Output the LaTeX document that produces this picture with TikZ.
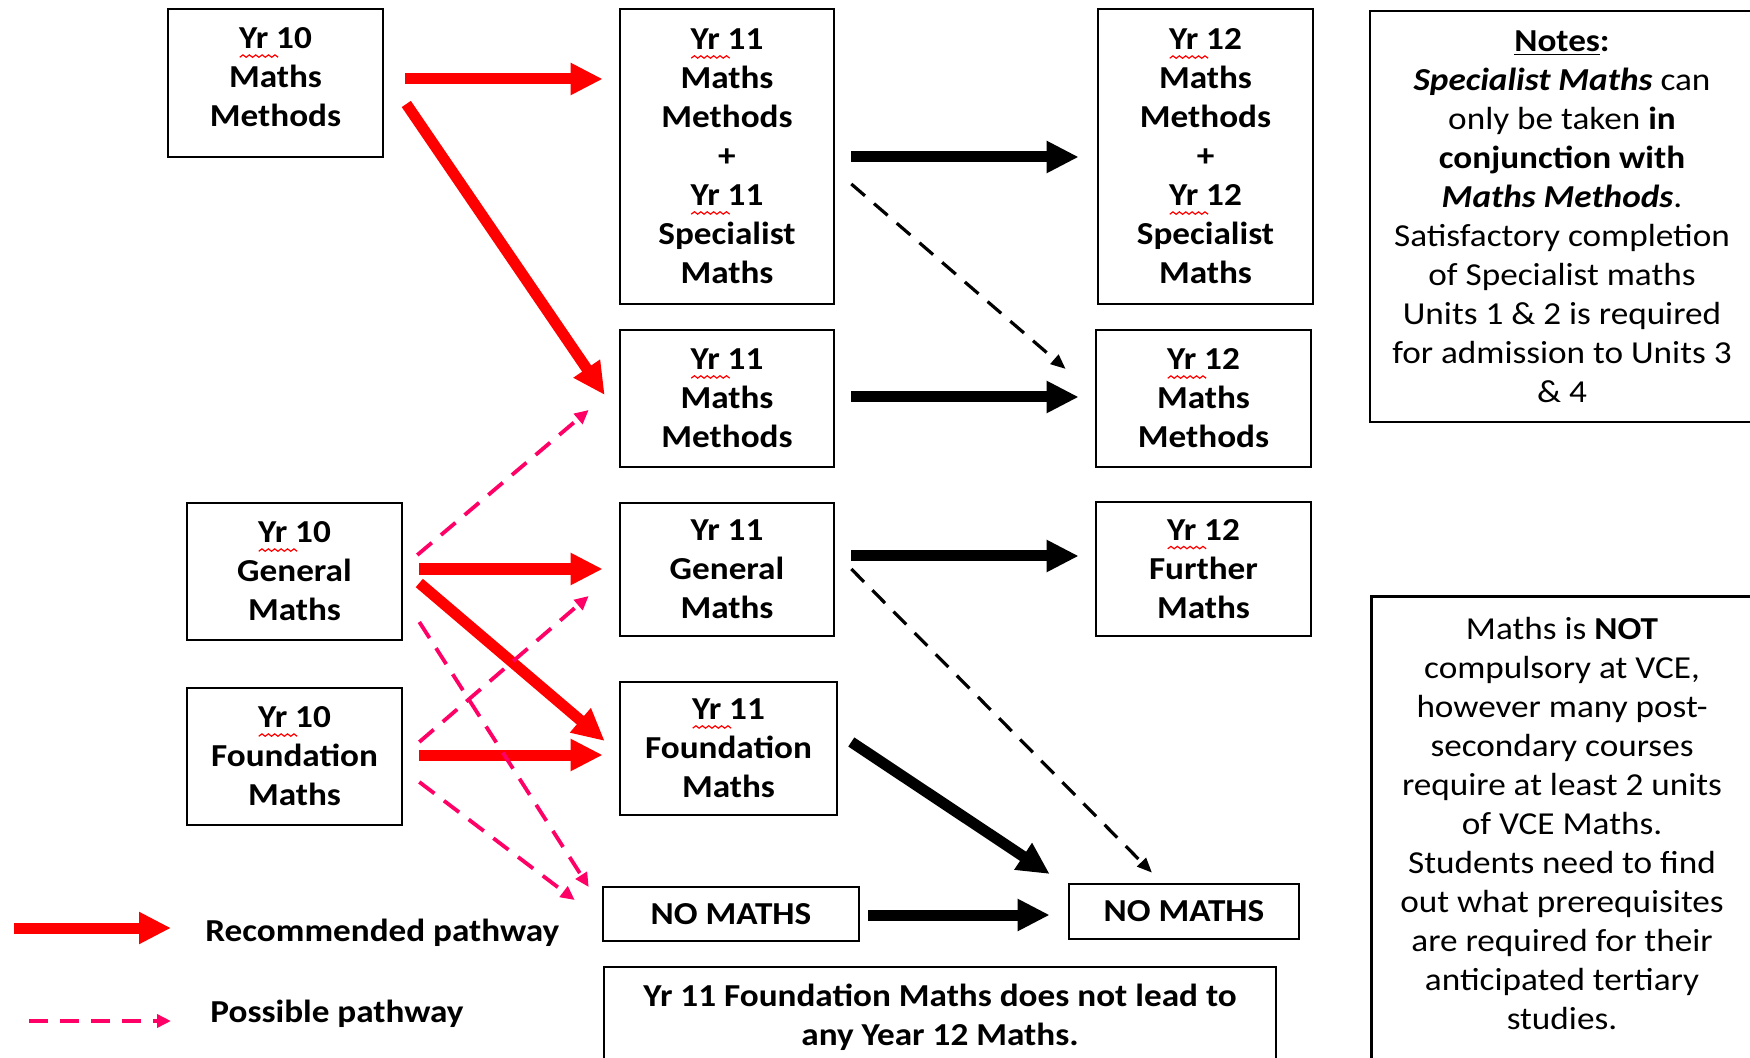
\documentclass[tikz,border=0pt]{standalone}
\usepackage{fontspec}
\setmainfont{Carlito}[FakeStretch=1.1]
\usetikzlibrary{arrows.meta,calc}
\definecolor{pathred}{RGB}{255,0,0}
\definecolor{pathpink}{RGB}{255,0,102}
\newsavebox\wavebox
\newcommand\spell[1]{\leavevmode\rlap{\raisebox{-4.5pt}[0pt][0pt]{\usebox\wavebox}}#1}
\begin{document}
\sbox\wavebox{\begin{pgfpicture}%
\pgfsetlinewidth{0.6pt}\pgfsetcolor{red}%
\pgfpathmoveto{\pgfpoint{0pt}{0pt}}%
\pgfpathlineto{\pgfpoint{1.6pt}{1.2pt}}\pgfpathlineto{\pgfpoint{3.2pt}{0pt}}%
\pgfpathlineto{\pgfpoint{4.8pt}{1.2pt}}\pgfpathlineto{\pgfpoint{6.4pt}{0pt}}%
\pgfpathlineto{\pgfpoint{8pt}{1.2pt}}\pgfpathlineto{\pgfpoint{9.6pt}{0pt}}%
\pgfpathlineto{\pgfpoint{11.2pt}{1.2pt}}\pgfpathlineto{\pgfpoint{12.8pt}{0pt}}%
\pgfpathlineto{\pgfpoint{14.4pt}{1.2pt}}\pgfpathlineto{\pgfpoint{16pt}{0pt}}%
\pgfpathlineto{\pgfpoint{17.6pt}{1.2pt}}\pgfpathlineto{\pgfpoint{19.2pt}{0pt}}%
\pgfusepath{stroke}%
\end{pgfpicture}}%
\begin{tikzpicture}[x=0.5pt,y=-0.5pt,
  box/.style={draw, line width=1.3pt, align=center, inner sep=0pt,
    font=\bfseries\fontsize{16}{19.5}\selectfont},
  notebox/.style={draw, line width=1.3pt, align=center, inner sep=0pt,
    font=\fontsize{16}{19.5}\selectfont},
  plaintext/.style={align=center, inner sep=0pt, font=\fontsize{16}{19.5}\selectfont},
  legendtext/.style={anchor=west, inner sep=0pt, font=\bfseries\fontsize{16}{19.5}\selectfont},
  rec/.style={pathred, line width=5.5pt, -{Triangle[length=16pt,width=15pt]}},
  main/.style={black, line width=5.5pt, -{Triangle[length=16pt,width=15pt]}},
  poss/.style={pathpink, line width=1.9pt, dash pattern=on 9.5pt off 6pt, -{Triangle[length=7pt,width=6.5pt]}},
  maybe/.style={black, line width=1.6pt, dash pattern=on 9pt off 6pt, -{Triangle[length=7.5pt,width=6pt]}}]
\useasboundingbox (0,0) rectangle (1750,1058);
\fill[white] (0,0) rectangle (1750,1058);
\clip (0,0) rectangle (1750,1058);

% Year 10
\node[box, minimum width=107.5pt, minimum height=74pt] (y10mm) at (275.5,83) {\spell{Yr} 10\\Maths\\Methods\rule[-5.6pt]{0pt}{5.6pt}};
\node[box, minimum width=107.5pt, minimum height=68.5pt] (y10gm) at (294.5,571.5) {\spell{Yr} 10\\General\\Maths};
\node[box, minimum width=107.5pt, minimum height=68.5pt] (y10fm) at (294.5,756.5) {\spell{Yr} 10\\Foundation\\Maths};

% Year 11
\node[box, minimum width=107pt, minimum height=147.5pt] (y11ms) at (727,156.5) {\spell{Yr} 11\\Maths\\Methods\\+\\\spell{Yr} 11\\Specialist\\Maths};
\node[box, minimum width=107pt, minimum height=68.5pt] (y11mm) at (727,398.5) {\spell{Yr} 11\\Maths\\Methods};
\node[box, minimum width=107pt, minimum height=66.5pt] (y11gm) at (727,569.5) {Yr 11\\General\\Maths};
\node[box, minimum width=108.5pt, minimum height=66.5pt] (y11fm) at (728.5,748.5) {\spell{Yr} 11\\Foundation\\Maths};
\node[box, minimum width=128pt, minimum height=27pt] (nm1) at (731,914) {NO MATHS};

% Year 12
\node[box, minimum width=107.5pt, minimum height=147.5pt] (y12ms) at (1205.5,156.5) {\spell{Yr} 12\\Maths\\Methods\\+\\\spell{Yr} 12\\Specialist\\Maths};
\node[box, minimum width=107.5pt, minimum height=68.5pt] (y12mm) at (1203.5,398.5) {\spell{Yr} 12\\Maths\\Methods};
\node[box, minimum width=107.5pt, minimum height=67pt] (y12fm) at (1203.5,569) {\spell{Yr} 12\\Further\\Maths};
\node[box, minimum width=115pt, minimum height=27.5pt] (nm2) at (1184,911.5) {NO MATHS};

% Notes
\node[notebox, minimum width=192pt, minimum height=205.5pt] (notes) at (1562,216.5) {%
\textbf{\underline{Notes}:}\\
\textbf{\textit{Specialist Maths}} can\\
only be taken \textbf{in}\\
\textbf{conjunction with}\\
\textbf{\textit{Maths Methods}}.\\
Satisfactory completion\\
of Specialist maths\\
Units 1 \& 2 is required\\
for admission to Units 3\\
\& 4};

\node[draw, line width=1.3pt, anchor=north west, inner sep=0pt, minimum width=200pt, minimum height=250pt] (vcebox) at (1370,595) {};
\node[plaintext] (vce) at (1562,823.5) {%
Maths is \textbf{NOT}\\
compulsory at VCE,\\
however many post-\\
secondary courses\\
require at least 2 units\\
of VCE Maths.\\
Students need to find\\
out what prerequisites\\
are required for their\\
anticipated tertiary\\
studies.};

\node[box, minimum width=336pt, minimum height=50pt] (foot) at (940,1017) {Yr 11 Foundation Maths does not lead to\\any Year 12 Maths.};

% Legend
\coordinate (lr1) at (14,928);
\coordinate (lr2) at (171,928);
\coordinate (lp1) at (29,1021);
\coordinate (lp2) at (171,1021);
\draw[rec] (lr1) -- (lr2);
\draw[poss] (lp1) -- (lp2);
\node[legendtext] (lrt) at (205,933) {Recommended pathway};
\node[legendtext] (lpt) at (210,1014) {Possible pathway};

% Recommended pathways
\draw[rec] ($(y10mm.east)+(21,-4)$) -- ($(y11ms.west)+(-16,-77.5)$);
\draw[rec] ($(y10mm.east)+(22,21)$) -- ($(y11mm.west)+(-14,-3.5)$);
\draw[rec] ($(y10gm.east)+(16,-2.5)$) -- ($(y11gm.west)+(-16,-0.5)$);
\draw[rec] ($(y10gm.east)+(16,11.5)$) -- ($(y11fm.west)+(-14,-7.5)$);
\draw[rec] ($(y10fm.east)+(16,-1.5)$) -- ($(y11fm.west)+(-16,6.5)$);

% Possible pathways
\draw[poss] ($(y10gm.east)+(14,-16.5)$) -- ($(y11mm.west)+(-30,11.5)$);
\draw[poss] ($(y10fm.east)+(16,-14.5)$) -- ($(y11gm.west)+(-30,26.5)$);
\draw[poss] ($(y10gm.east)+(16,50.5)$) -- ($(nm1.west)+(-13,-27)$);
\draw[poss] ($(y10fm.east)+(16,25.5)$) -- ($(nm1.west)+(-27,-14)$);

% Year 11 to Year 12
\draw[main] ($(y11ms.east)+(16,0.5)$) -- ($(y12ms.west)+(-18,0.5)$);
\draw[main] ($(y11mm.east)+(16,-1.5)$) -- ($(y12mm.west)+(-16,-1.5)$);
\draw[main] ($(y11gm.east)+(16,-13.5)$) -- ($(y12fm.west)+(-16,-13)$);
\draw[main] ($(y11fm.east)+(13,-6.5)$) -- ($(nm2.west)+(-18,-37.5)$);
\draw[main] ($(nm1.east)+(8,1)$) -- ($(nm2.west)+(-18,3.5)$);
\draw[maybe] ($(y11ms.east)+(16,27.5)$) -- ($(y12mm.west)+(-29,-29.5)$);
\draw[maybe] ($(y11gm.east)+(16,-0.5)$) -- ($(nm2.north)+(-32,-10)$);
\end{tikzpicture}
\end{document}
